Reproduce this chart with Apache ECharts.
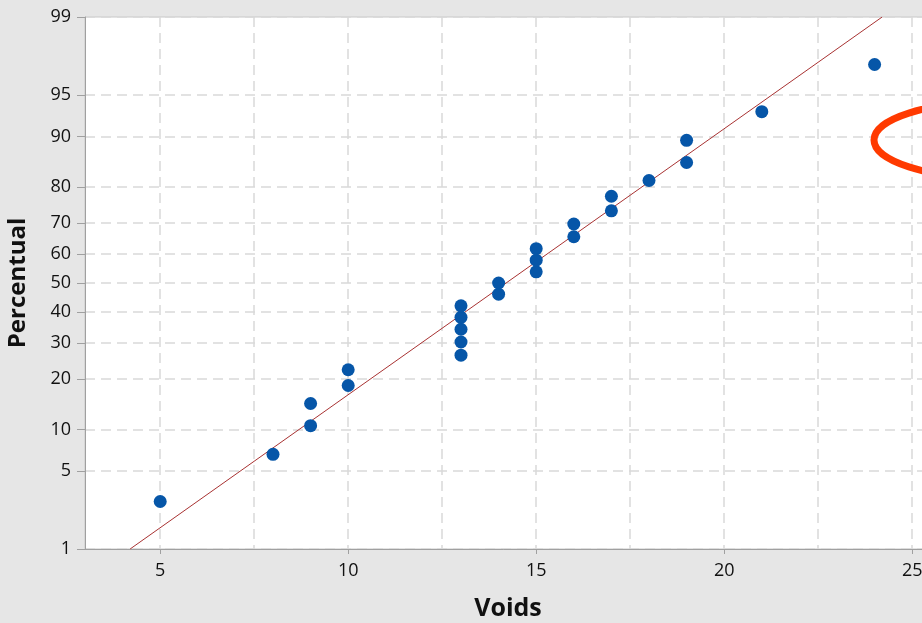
<!DOCTYPE html>
<html>
<head>
<meta charset="utf-8">
<script src="https://cdn.jsdelivr.net/npm/echarts@6/dist/echarts.min.js"></script>
<style>
html,body{margin:0;padding:0;background:#e6e6e6;}
#chart{width:922px;height:623px;}
</style>
</head>
<body>
<div id="chart"></div>
<script>
// ---- data ----
const voids = [5, 8, 9, 9, 10, 10, 13, 13, 13, 13, 13, 14, 14, 15, 15, 15, 16, 16, 17, 17, 18, 19, 19, 21, 24];
const percentual = [2.8, 6.7, 10.6, 14.6, 18.5, 22.4, 26.4, 30.3, 34.3, 38.2, 42.1, 46.1, 50.0, 53.9, 57.9, 61.8, 65.7, 69.7, 73.6, 77.6, 81.5, 85.4, 89.4, 93.3, 97.2];
const fitVoids = [4.2, 24.2];
const fitPercent = [1, 99];
const yTickLabels = [1, 5, 10, 20, 30, 40, 50, 60, 70, 80, 90, 95, 99];
const xTickLabels = [5, 10, 15, 20, 25];
const xGridValues = [5, 7.5, 10, 12.5, 15, 17.5, 20, 22.5, 25];

// probability scale (inverse normal CDF, Acklam)
function probit(p) {
  const a = [-3.969683028665376e+01, 2.209460984245205e+02, -2.759285104469687e+02, 1.383577518672690e+02, -3.066479806614716e+01, 2.506628277459239e+00];
  const b = [-5.447609879822406e+01, 1.615858368580409e+02, -1.556989798598866e+02, 6.680131188771972e+01, -1.328068155288572e+01];
  const c = [-7.784894002430293e-03, -3.223964580411365e-01, -2.400758277161838e+00, -2.549732539343734e+00, 4.374664141464968e+00, 2.938163982698783e+00];
  const d = [7.784695709041462e-03, 3.224671290700398e-01, 2.445134137142996e+00, 3.754408661907416e+00];
  const pl = 0.02425, ph = 1 - pl;
  let q, r;
  if (p < pl) {
    q = Math.sqrt(-2 * Math.log(p));
    return (((((c[0]*q+c[1])*q+c[2])*q+c[3])*q+c[4])*q+c[5]) / ((((d[0]*q+d[1])*q+d[2])*q+d[3])*q+1);
  } else if (p <= ph) {
    q = p - 0.5; r = q * q;
    return (((((a[0]*r+a[1])*r+a[2])*r+a[3])*r+a[4])*r+a[5])*q / (((((b[0]*r+b[1])*r+b[2])*r+b[3])*r+b[4])*r+1);
  } else {
    q = Math.sqrt(-2 * Math.log(1 - p));
    return -(((((c[0]*q+c[1])*q+c[2])*q+c[3])*q+c[4])*q+c[5]) / ((((d[0]*q+d[1])*q+d[2])*q+d[3])*q+1);
  }
}
const z = pct => probit(pct / 100);
const yTickZ = yTickLabels.map(z);
function labelFor(v) {
  for (let i = 0; i < yTickZ.length; i++) if (Math.abs(yTickZ[i] - v) < 1e-6) return String(yTickLabels[i]);
  return '';
}

const points = voids.map((v, i) => [v, z(percentual[i])]);
const fitLine = fitVoids.map((v, i) => [v, z(fitPercent[i])]);

const FONT = '"Open Sans", "Noto Sans", sans-serif';
const gridLine = { show: true, lineStyle: { color: '#d9d9d9', width: 1.5, type: [10, 6] } };

const chart = echarts.init(document.getElementById('chart'), null, { renderer: 'canvas' });
chart.setOption({
  backgroundColor: '#e6e6e6',
  animation: false,
  grid: { left: 85, right: -9, top: 17, bottom: 74, outerBoundsMode: 'none', containLabel: false,
          show: true, backgroundColor: '#ffffff', borderColor: '#c8c8c8', borderWidth: 1 },
  xAxis: [{
    type: 'value', min: 3, max: 25.5,
    name: 'Voids', nameLocation: 'middle', nameGap: 47,
    nameTextStyle: { fontFamily: FONT, fontSize: 25, fontWeight: 'bold', color: '#111' },
    axisLine: { show: true, onZero: false, lineStyle: { color: '#a0a0a0', width: 1 } },
    axisTick: { show: true, length: 5, customValues: xTickLabels, lineStyle: { color: '#a0a0a0' } },
    axisLabel: { customValues: xTickLabels, margin: 13, fontFamily: FONT, fontSize: 18, color: '#111' },
    splitLine: { show: false }
  }, {
    type: 'value', min: 3, max: 25.5, position: 'bottom',
    axisLine: { show: false }, axisLabel: { show: false },
    axisTick: { show: false, customValues: xGridValues },
    splitLine: gridLine
  }],
  yAxis: {
    type: 'value', min: z(1), max: z(99),
    name: 'Percentual', nameLocation: 'middle', nameGap: 55, nameRotate: 90,
    nameTextStyle: { fontFamily: FONT, fontSize: 24, fontWeight: 'bold', color: '#111' },
    axisLine: { show: true, onZero: false, lineStyle: { color: '#a0a0a0', width: 1 } },
    axisTick: { show: true, length: 8, customValues: yTickZ, lineStyle: { color: '#a0a0a0' } },
    axisLabel: { customValues: yTickZ, formatter: labelFor, margin: 14, fontFamily: FONT, fontSize: 18, color: '#111' },
    splitLine: gridLine
  },
  graphic: [{
    type: 'ellipse', z: 100,
    shape: { cx: 993, cy: 140, rx: 119, ry: 38 },
    style: { fill: 'none', stroke: '#ff3a00', lineWidth: 7 }
  }],
  series: [{
    type: 'line', data: fitLine, symbol: 'none', xAxisIndex: 0,
    lineStyle: { color: '#a83232', width: 1 }, z: 2, silent: true
  }, {
    type: 'scatter', data: points, xAxisIndex: 0, symbolSize: 13,
    itemStyle: { color: '#0656a8', opacity: 1 }, z: 3
  }]
});
</script>
</body>
</html>
